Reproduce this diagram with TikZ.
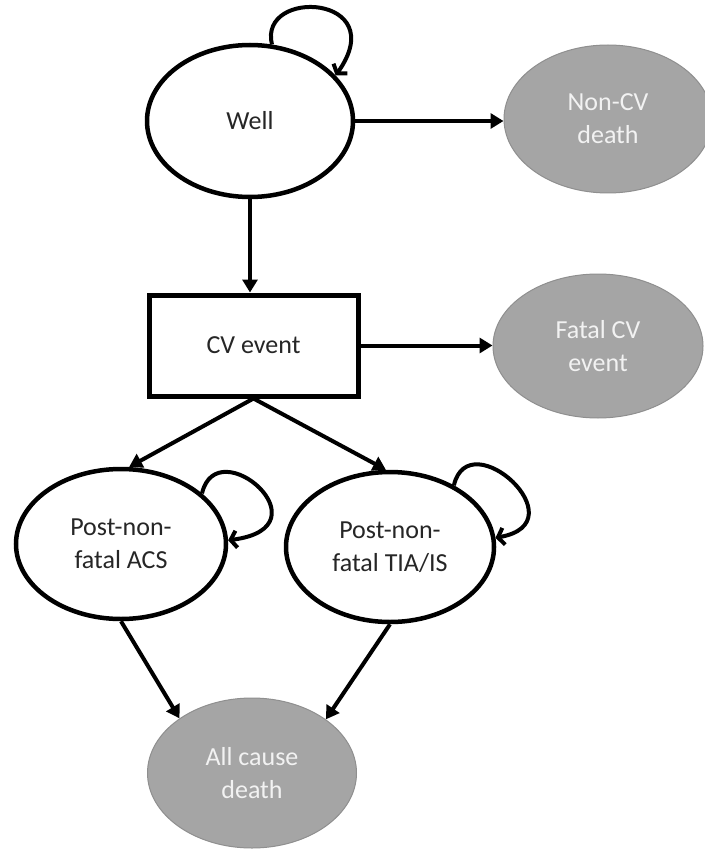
\documentclass[tikz,border=0pt]{standalone}
\usepackage{fontspec}
\setmainfont{Carlito}
\usetikzlibrary{shapes.geometric,arrows.meta}
\definecolor{deadfill}{HTML}{A5A5A5}
\definecolor{deadline}{HTML}{8F8F8F}
\definecolor{deadtext}{HTML}{F2F2F2}
\definecolor{inktext}{HTML}{262626}
\begin{document}
\begin{tikzpicture}[x=1pt,y=1pt,
  font=\fontsize{26}{33}\selectfont,
  live/.style={ellipse, draw=black, line width=4.5pt, fill=white, text=inktext, inner sep=0pt, align=center, minimum width=208pt, minimum height=150pt},
  dead/.style={ellipse, draw=deadline, line width=1pt, fill=deadfill, text=deadtext, inner sep=0pt, align=center, minimum width=208pt, minimum height=148pt},
  eventbox/.style={rectangle, draw=black, line width=5pt, fill=white, text=inktext, minimum width=209pt, minimum height=101pt, inner sep=0pt},
  flow/.style={line width=4pt, -{Triangle[length=13pt,width=15pt]}},
  selfloop/.style={line width=4pt, -{Straight Barb[length=6pt,width=17pt]}}
]
\useasboundingbox (0,0) rectangle (704,-850);
\node[live, minimum width=206pt, minimum height=152pt] (well) at (250,-121) {Well};
\node[dead] (noncv) at (608,-119) {Non-CV\\death};
\node[eventbox] (cv) at (253.5,-345.5) {CV event};
\node[dead, minimum width=210pt, minimum height=144pt] (fatal) at (598,-346) {Fatal CV\\event};
\node[live, minimum width=210pt] (acs) at (121,-544) {Post-non-\\fatal ACS};
\node[live] (tia) at (390,-547) {Post-non-\\fatal TIA/IS};
\node[dead, minimum width=209pt, minimum height=150pt] (allc) at (252,-773) {All cause\\death};

\draw[flow] (well.east) -- (well.east -| noncv.west);
\draw[flow] (well.south) -- (well.south |- cv.north);
\draw[flow] (cv.east) -- (cv.east -| fatal.west);
\draw[flow] (cv.south) -- (acs.84);
\draw[flow] (cv.south) -- (tia.93);
\draw[flow] (acs.south) -- (allc.143);
\draw[flow] (tia.south) -- (allc.36);

\draw[selfloop] (well.74) .. controls +(-14,57) and +(57,81) .. (well.28);
\draw[selfloop] (acs.32) .. controls +(15,64) and +(102,13) .. (acs.2);
\draw[selfloop] (tia.44) .. controls +(15,64) and +(85,15) .. (tia.5);
\end{tikzpicture}
\end{document}
